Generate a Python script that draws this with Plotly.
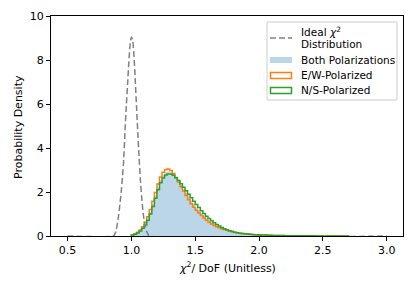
import numpy as np
import plotly.graph_objects as go

# ---------------- data ----------------
ideal_x = [0.50, 0.86, 0.87, 0.88, 0.89, 0.90, 0.91, 0.92, 0.93, 0.94, 0.95, 0.96, 0.97,
           0.98, 0.99, 1.00, 1.01, 1.02, 1.03, 1.04, 1.05, 1.06, 1.07, 1.08, 1.09,
           1.10, 1.11, 1.12, 1.13, 1.14, 3.00]
ideal_y = [0.0, 0.0, 0.08, 0.25, 0.55, 0.95, 1.45, 2.0, 2.7, 3.5, 4.8, 5.9, 6.9,
           7.9, 8.7, 9.05, 8.9, 8.2, 7.1, 5.9, 4.7, 3.6, 2.6, 1.8, 1.15,
           0.7, 0.4, 0.2, 0.08, 0.0, 0.0]

bin_start = 1.00
bin_width = 0.02

both_density = [0.045, 0.09, 0.155, 0.25, 0.385, 0.56, 0.80, 1.10, 1.46, 1.85,
                2.23, 2.55, 2.77, 2.90, 2.93, 2.90, 2.80, 2.66, 2.49, 2.31,
                2.13, 1.95, 1.78, 1.61, 1.45, 1.30, 1.17, 1.04, 0.92, 0.81,
                0.71, 0.62, 0.54, 0.47, 0.41, 0.36, 0.31, 0.27, 0.235, 0.20,
                0.17, 0.15, 0.13, 0.113, 0.10, 0.09, 0.08, 0.07, 0.06, 0.055,
                0.05, 0.045, 0.04, 0.035, 0.03, 0.027]
ew_density = [0.05, 0.10, 0.17, 0.27, 0.42, 0.62, 0.88, 1.20, 1.58, 1.98,
              2.36, 2.68, 2.90, 3.02, 3.05, 2.98, 2.84, 2.66, 2.45, 2.24,
              2.04, 1.84, 1.65, 1.47, 1.31, 1.17, 1.04, 0.93, 0.82, 0.72,
              0.63, 0.55, 0.48, 0.42, 0.37, 0.33, 0.29, 0.26, 0.23, 0.20,
              0.17, 0.15, 0.13, 0.115, 0.10, 0.09, 0.08, 0.07, 0.06, 0.055,
              0.05, 0.045, 0.04, 0.035, 0.03, 0.027]
ns_density = [0.04, 0.08, 0.14, 0.23, 0.35, 0.50, 0.72, 1.00, 1.34, 1.72,
              2.10, 2.42, 2.64, 2.77, 2.82, 2.82, 2.76, 2.65, 2.52, 2.38,
              2.22, 2.06, 1.90, 1.74, 1.58, 1.43, 1.29, 1.15, 1.02, 0.90,
              0.79, 0.69, 0.60, 0.52, 0.45, 0.39, 0.33, 0.28, 0.24, 0.20,
              0.17, 0.15, 0.13, 0.11, 0.10, 0.09, 0.08, 0.07, 0.06, 0.055,
              0.05, 0.045, 0.04, 0.035, 0.03, 0.027]
tail_density = [0.024, 0.022, 0.02, 0.018, 0.016, 0.015, 0.014, 0.012, 0.011, 0.01,
                0.009, 0.008, 0.008, 0.007, 0.006, 0.006, 0.005, 0.005, 0.004, 0.004,
                0.004, 0.003, 0.003, 0.003, 0.002, 0.002, 0.002, 0.002, 0.001]

x_ticks = [0.5, 1.0, 1.5, 2.0, 2.5, 3.0]
y_ticks = [0, 2, 4, 6, 8, 10]
x_title = "<i>χ</i><sup>2</sup>/ DoF (Unitless)"
y_title = "Probability Density"
legend_labels = ["Ideal <i>χ</i><sup>2</sup>", "Distribution", "Both Polarizations",
                 "E/W-Polarized", "N/S-Polarized"]


def step_xy(values):
    vals = list(values) + tail_density
    n = len(vals)
    edges = np.round(bin_start + bin_width * np.arange(n + 1), 4)
    xs = [edges[0]] + list(edges[:-1]) + [edges[-1]]
    ys = [0.0] + vals + [0.0]
    return xs, ys


GRAY = "#808080"
ORANGE = "#ff7f0e"
GREEN = "#2ca02c"
BLUE_FILL = "rgba(31,119,180,0.3)"
FONT = "DejaVu Sans"

fig = go.Figure()

bx, by = step_xy(both_density)
fig.add_trace(go.Scatter(x=bx, y=by, mode="lines", line=dict(width=0, shape="hv"),
                         fill="tozeroy", fillcolor=BLUE_FILL, showlegend=False))
ex, ey = step_xy(ew_density)
fig.add_trace(go.Scatter(x=ex, y=ey, mode="lines", line=dict(color=ORANGE, width=1.5, shape="hv"),
                         showlegend=False))
nx, ny = step_xy(ns_density)
fig.add_trace(go.Scatter(x=nx, y=ny, mode="lines", line=dict(color=GREEN, width=1.5, shape="hv"),
                         showlegend=False))
fig.add_trace(go.Scatter(x=ideal_x, y=ideal_y, mode="lines",
                         line=dict(color=GRAY, width=1.5, dash="6px,3px", shape="spline", smoothing=0.6),
                         showlegend=False))

# ---- geometry: the page body has an 8px margin, so the figure starts at (8, 8) ----
OFF = 8
W, H = 399, 275
L, R, T, B = 43, 4, 8, 47
PW, PH = W - L - R, H - T - B


def px(X):
    return (X - OFF - L) / PW


def py(Y):
    return (OFF + T + PH - Y) / PH


shapes = []
shapes.append(dict(type="rect", xref="paper", yref="paper",
                   x0=px(267), x1=px(397), y0=py(100), y1=py(22),
                   line=dict(color="#cccccc", width=1), fillcolor="rgba(255,255,255,0.8)",
                   layer="above"))
shapes.append(dict(type="line", xref="paper", yref="paper", x0=px(270), x1=px(292),
                   y0=py(38), y1=py(38), line=dict(color=GRAY, width=1.5, dash="6px,3px"), layer="above"))
shapes.append(dict(type="rect", xref="paper", yref="paper", x0=px(270), x1=px(292),
                   y0=py(63), y1=py(57), line=dict(width=0), fillcolor=BLUE_FILL, layer="above"))
shapes.append(dict(type="rect", xref="paper", yref="paper", x0=px(270.5), x1=px(291.5),
                   y0=py(78.5), y1=py(72.5), line=dict(color=ORANGE, width=1.5),
                   fillcolor="rgba(0,0,0,0)", layer="above"))
shapes.append(dict(type="rect", xref="paper", yref="paper", x0=px(270.5), x1=px(291.5),
                   y0=py(93.5), y1=py(87.5), line=dict(color=GREEN, width=1.5),
                   fillcolor="rgba(0,0,0,0)", layer="above"))

annotations = []
for text, Y in zip(legend_labels, [31, 44, 60, 75, 90]):
    annotations.append(dict(text=text, xref="paper", yref="paper", x=px(299), y=py(Y),
                            xanchor="left", yanchor="middle", showarrow=False,
                            font=dict(family=FONT, size=10.5, color="black")))
annotations.append(dict(text=x_title, xref="paper", yref="paper", x=px(227), y=py(267),
                        xanchor="center", yanchor="middle", showarrow=False,
                        font=dict(family=FONT, size=11, color="black")))
annotations.append(dict(text=y_title, xref="paper", yref="paper", x=px(18), y=py(127),
                        xanchor="center", yanchor="middle", showarrow=False, textangle=-90,
                        font=dict(family=FONT, size=11, color="black")))

axis_common = dict(ticks="outside", ticklen=4, tickwidth=1, tickcolor="black",
                   showline=True, linecolor="black", linewidth=1, mirror=True,
                   showgrid=False, zeroline=False, automargin=False,
                   tickfont=dict(family=FONT, size=11, color="black"))

fig.update_layout(
    width=W, height=H,
    margin=dict(l=L, r=R, t=T, b=B, pad=0),
    paper_bgcolor="white", plot_bgcolor="white",
    font=dict(family=FONT, size=11, color="black"),
    showlegend=False,
    shapes=shapes, annotations=annotations,
    xaxis=dict(range=[0.37, 3.128], tickvals=x_ticks, tickformat=".1f", **axis_common),
    yaxis=dict(range=[0, 10], tickvals=y_ticks, **axis_common),
)

fig.write_html("out.html")
